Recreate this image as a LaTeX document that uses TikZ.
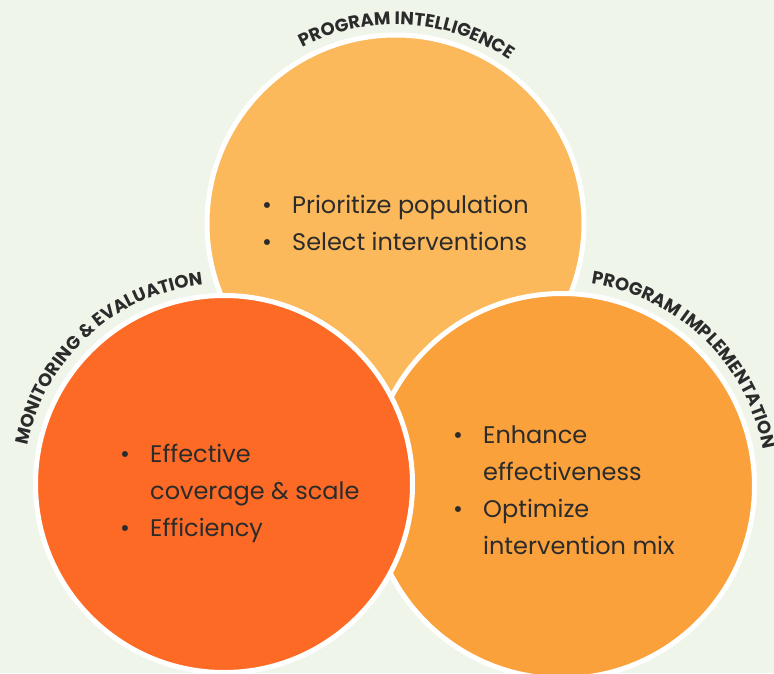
\documentclass[tikz,border=0pt]{standalone}
\usepackage{fontspec}
\setmainfont{Poppins}
\usetikzlibrary{decorations.text}

\definecolor{bg}{HTML}{F0F5EA}
\definecolor{intelc}{HTML}{FBB95B}
\definecolor{monitc}{HTML}{FD6A26}
\definecolor{implc}{HTML}{FBA13C}
\definecolor{ink}{HTML}{2B2B2B}
\newcommand{\lblfont}{\fontsize{18}{20}\selectfont\bfseries\color{ink}}
\newcommand{\bul}{\makebox[30pt][l]{\textbullet}}
\newcommand{\ind}{\makebox[30pt]{}}

\begin{document}
\begin{tikzpicture}[x=1pt, y=1pt,
    ring/.style={circle, draw=white, line width=5pt, minimum size=#1, inner sep=0pt},
    points/.style={anchor=base west, text=ink, inner sep=0pt, font=\fontsize{24}{37}\selectfont},
    arclabel/.style={decorate, decoration={text along path, text align=center, text={|\lblfont|#1}}}]
    \fill[bg] (0,0) rectangle (774,-673);
    \useasboundingbox (0,0) rectangle (774,-673);

    % the three circles
    \node (intel) [ring=377pt, fill=intelc] at (395.5,-223.5) {};
    \node (impl) [ring=385pt, fill=implc] at (562,-486) {};
    \node (monit) [ring=377pt, fill=monitc] at (224,-484) {};

    % bullet points
    \node (intelpts) [points] at (262,-213) {\begin{tabular}[t]{@{}l@{}}
        \bul Prioritize population\\ \bul Select interventions\end{tabular}};
    \node (monitpts) [points] at (120,-462) {\begin{tabular}[t]{@{}l@{}}
        \bul Effective\\ \ind coverage \& scale\\ \bul Efficiency\end{tabular}};
    \node (implpts) [points] at (453,-443) {\begin{tabular}[t]{@{}l@{}}
        \bul Enhance\\ \ind effectiveness\\ \bul Optimize\\ \ind intervention mix\end{tabular}};

    % curved titles
    \path[arclabel={PROGRAM INTELLIGENCE}] (intel.center) ++(150:199) arc[start angle=150, end angle=23, radius=199];
    \path[arclabel={MONITORING {\&} EVALUATION}] (monit.center) ++(198:200) arc[start angle=198, end angle=67, radius=200];
    \path[arclabel={PROGRAM IMPLEMENTATION}] (impl.center) ++(112:204) arc[start angle=112, end angle=-20, radius=204];

\end{tikzpicture}
\end{document}
